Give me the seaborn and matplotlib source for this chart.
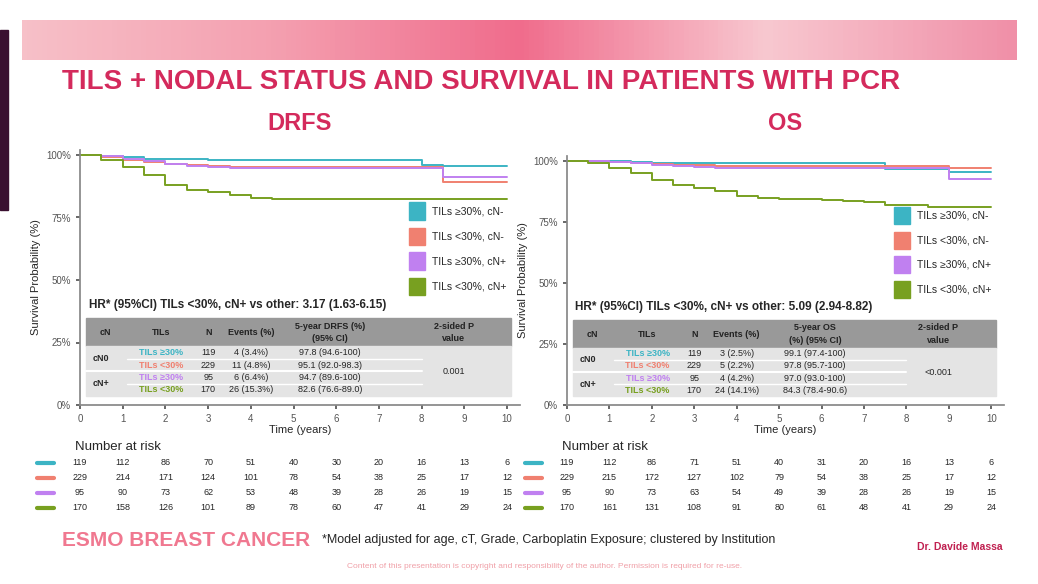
import numpy as np
import pandas as pd
import matplotlib.pyplot as plt
import seaborn as sns
from matplotlib.patches import Rectangle

sns.set_theme(style="white")
plt.rcParams['font.family'] = ['Liberation Sans', 'DejaVu Sans']

groups = ["TILs \u226530%, cN-", "TILs <30%, cN-", "TILs \u226530%, cN+", "TILs <30%, cN+"]
colors = ["#3cb4c4", "#f08070", "#c080f0", "#78a020"]

t = [0, 0.5, 1, 1.5, 2, 2.5, 3, 3.5, 4, 4.5, 5, 5.5, 6, 6.5, 7, 7.5, 8, 8.5, 9, 9.5, 10]
drfs = {
    groups[0]: [100, 99.5, 99, 98.5, 98.3, 98.2, 98, 97.8, 97.8, 97.8, 97.8, 97.8, 97.8, 97.8, 97.8, 97.8, 96, 95.5, 95.5, 95.5, 95.5],
    groups[1]: [100, 99.3, 98, 97, 96.5, 96, 95.5, 95.3, 95.1, 95.1, 95.1, 95.1, 95.1, 95.1, 95.1, 95.1, 95.1, 89, 89, 89, 89],
    groups[2]: [100, 99.5, 98.5, 97.5, 96.5, 95.5, 95, 94.8, 94.7, 94.7, 94.7, 94.7, 94.7, 94.7, 94.7, 94.7, 94.7, 91, 91, 91, 91],
    groups[3]: [100, 98, 95, 92, 88, 86, 85, 84, 83, 82.6, 82.6, 82.6, 82.6, 82.6, 82.6, 82.6, 82.6, 82.6, 82.6, 82.6, 82.6],
}
os_ = {
    groups[0]: [100, 100, 99.8, 99.5, 99.3, 99.2, 99.1, 99.1, 99.1, 99.1, 99.1, 99.1, 99.1, 99.1, 99.1, 96.5, 96.5, 96.5, 95.5, 95.5, 95.5],
    groups[1]: [100, 100, 99.5, 99, 98.7, 98.5, 98.2, 98, 97.8, 97.8, 97.8, 97.8, 97.8, 97.8, 97.8, 97.8, 97.8, 97.8, 97, 97, 97],
    groups[2]: [100, 100, 99.5, 99, 98.5, 98, 97.5, 97.2, 97, 97, 97, 97, 97, 97, 97, 97, 97, 97, 92.5, 92.5, 92.5],
    groups[3]: [100, 99, 97, 95, 92, 90, 89, 87.5, 85.5, 85, 84.3, 84.3, 84, 83.5, 83, 82, 82, 81, 81, 81, 81],
}

risk_drfs = [[119, 112, 86, 70, 51, 40, 30, 20, 16, 13, 6],
             [229, 214, 171, 124, 101, 78, 54, 38, 25, 17, 12],
             [95, 90, 73, 62, 53, 48, 39, 28, 26, 19, 15],
             [170, 158, 126, 101, 89, 78, 60, 47, 41, 29, 24]]
risk_os = [[119, 112, 86, 71, 51, 40, 31, 20, 16, 13, 6],
           [229, 215, 172, 127, 102, 79, 54, 38, 25, 17, 12],
           [95, 90, 73, 63, 54, 49, 39, 28, 26, 19, 15],
           [170, 161, 131, 108, 91, 80, 61, 48, 41, 29, 24]]

tab_drfs = [["119", "4 (3.4%)", "97.8 (94.6-100)"], ["229", "11 (4.8%)", "95.1 (92.0-98.3)"],
            ["95", "6 (6.4%)", "94.7 (89.6-100)"], ["170", "26 (15.3%)", "82.6 (76.6-89.0)"]]
tab_os = [["119", "3 (2.5%)", "99.1 (97.4-100)"], ["229", "5 (2.2%)", "97.8 (95.7-100)"],
          ["95", "4 (4.2%)", "97.0 (93.0-100)"], ["170", "24 (14.1%)", "84.3 (78.4-90.6)"]]
tils_lab = ["TILs \u226530%", "TILs <30%", "TILs \u226530%", "TILs <30%"]

W, H = 1038, 584
fig = plt.figure(figsize=(W/100, H/100), dpi=100)
fig.patch.set_facecolor("white")

def fr(x, y, w, h):
    return [x/W, 1-(y+h)/H, w/W, h/H]

bn = fig.add_axes(fr(22, 20, 995, 40))
grad = np.linspace(0, 1, 200)[None, :]
bn.imshow(grad, aspect="auto", cmap=sns.blend_palette(["#f7c0c8", "#f4a0b0", "#f06c8c", "#f8c8d0", "#f090a8"], as_cmap=True))
bn.axis("off")
fig.add_artist(Rectangle((0, 1-210/H), 8/W, 180/H, transform=fig.transFigure, color="#3a1030"))
fig.text(62/W, 1-82/H, "TILS + NODAL STATUS AND SURVIVAL IN PATIENTS WITH PCR",
         fontsize=20, fontweight="bold", color="#d42a5c", va="center")

def panel(x0, y0, w, h, title, data, tab, hr, pval, risk, hdr):
    ax = fig.add_axes(fr(x0, y0, w, h))
    rows = []
    for g in groups:
        for ti, s in zip(t, data[g]):
            rows.append((g, ti, s/100))
    df = pd.DataFrame(rows, columns=["grp", "time", "surv"])
    sns.lineplot(data=df, x="time", y="surv", hue="grp", palette=colors, hue_order=groups,
                 drawstyle="steps-post", ax=ax, lw=1.4, legend=False)
    ax.set_xlim(0, 10.3); ax.set_ylim(0, 1.02)
    ax.set_xticks(range(11)); ax.set_yticks([0, .25, .5, .75, 1])
    ax.set_yticklabels(["0%", "25%", "50%", "75%", "100%"])
    ax.tick_params(labelsize=7, colors="#555555", length=3, left=True, bottom=True)
    for s in ["top", "right"]: ax.spines[s].set_visible(False)
    for s in ["left", "bottom"]: ax.spines[s].set_color("#888888")
    ax.set_xlabel("Time (years)", fontsize=8, labelpad=1)
    ax.set_ylabel("Survival Probability (%)", fontsize=8)
    fig.text((x0+w/2)/W, 1-130/H, title, fontsize=17, fontweight="bold", color="#d42a5c", ha="center")
    for i, g in enumerate(groups):
        ax.add_patch(Rectangle((7.7, 0.74-i*0.1), 0.38, 0.07, color=colors[i], clip_on=False))
        ax.text(8.25, 0.775-i*0.1, g, fontsize=7.5, va="center")
    ax.text(0.2, 0.40, hr, fontsize=8.5, fontweight="bold", va="center")
    ax.add_patch(Rectangle((0.15, 0.235), 9.95, 0.115, color="#999999"))
    ax.add_patch(Rectangle((0.15, 0.035), 9.95, 0.2, color="#e4e4e4"))
    ax.plot([1.1, 8.0], [0.185, 0.185], color="white", lw=1)
    ax.plot([0.15, 8.0], [0.135, 0.135], color="white", lw=1.5)
    ax.plot([1.1, 8.0], [0.085, 0.085], color="white", lw=1)
    for xx, lab in zip([0.6, 1.9, 3.0, 4.0, 5.85, 8.75], ["cN", "TILs", "N", "Events (%)", hdr, "2-sided P\nvalue"]):
        ax.text(xx, 0.29, lab, fontsize=6.5, fontweight="bold", ha="center", va="center",
                color="#222222", linespacing=1.5)
    ys = [0.21, 0.16, 0.11, 0.06]
    for i in range(4):
        ax.text(1.9, ys[i], tils_lab[i], fontsize=6.5, fontweight="bold", color=colors[i], ha="center", va="center")
        for xx, v in zip([3.0, 4.0, 5.85], tab[i]):
            ax.text(xx, ys[i], v, fontsize=6.5, ha="center", va="center")
    ax.text(0.3, 0.185, "cN0", fontsize=6.5, fontweight="bold", va="center")
    ax.text(0.3, 0.085, "cN+", fontsize=6.5, fontweight="bold", va="center")
    ax.text(8.75, 0.135, pval, fontsize=6.5, ha="center", va="center")
    rk = fig.add_axes(fr(x0, 455, w, 60), sharex=ax)
    rk.axis("off"); rk.set_ylim(-0.5, 3.5)
    for i in range(4):
        for j, v in enumerate(risk[i]):
            rk.text(j, 3-i, str(v), fontsize=6.5, ha="center", va="center")
        rk.plot([-1.0, -0.6], [3-i, 3-i], color=colors[i], lw=3, clip_on=False)
    fig.text((x0-5)/W, 1-453/H, "Number at risk", fontsize=9.5, va="bottom")

panel(80, 150, 440, 255, "DRFS", drfs, tab_drfs, "HR* (95%CI) TILs <30%, cN+ vs other: 3.17 (1.63-6.15)",
      "0.001", risk_drfs, "5-year DRFS (%)\n(95% CI)")
panel(567, 156, 437, 249, "OS", os_, tab_os, "HR* (95%CI) TILs <30%, cN+ vs other: 5.09 (2.94-8.82)",
      "<0.001", risk_os, "5-year OS\n(%) (95% CI)")

fig.text(62/W, 1-540/H, "ESMO BREAST CANCER", fontsize=15, fontweight="bold", color="#f07890", va="center")
fig.text(322/W, 1-540/H, "*Model adjusted for age, cT, Grade, Carboplatin Exposure; clustered by Institution",
         fontsize=9, va="center")
fig.text(1003/W, 1-547/H, "Dr. Davide Massa", fontsize=7.5, fontweight="bold", color="#c02050", ha="right", va="center")
fig.text(545/W, 1-567/H, "Content of this presentation is copyright and responsibility of the author. Permission is required for re-use.",
         fontsize=6, color="#f0a0a8", ha="center", va="center")

fig.savefig("out.png", dpi=100)
